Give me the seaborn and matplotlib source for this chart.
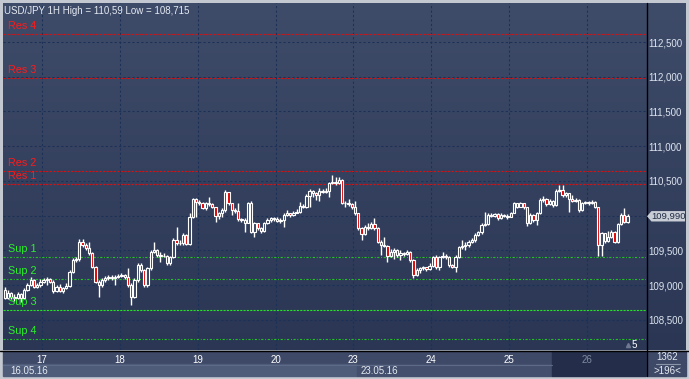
"""
USD/JPY 1H candlestick chart with support / resistance levels.
"""

import numpy as np
import matplotlib
matplotlib.use("Agg")
import matplotlib.pyplot as plt
import seaborn as sns
from matplotlib.colors import LinearSegmentedColormap
from matplotlib.patches import Rectangle, Polygon
from matplotlib.transforms import blended_transform_factory

# ---- data -----------------------------------------------------------------
first_open = 108.928

closes = [
    # 16.05 (afternoon)
    108.808, 108.890, 108.832, 108.813, 108.870, 108.808, 108.928, 109.000, 109.072, 108.976, 109.000, 109.048,
    # 17
    109.072, 109.082, 109.048, 108.918, 108.976, 108.918, 108.952, 108.986, 109.192, 109.360, 109.370, 109.624,
    109.576, 109.528, 109.456, 109.264, 109.048, 109.000, 109.072, 109.096, 109.120, 109.096, 109.120, 109.130,
    # 18
    109.144, 109.110, 109.000, 108.822, 109.072, 109.288, 109.216, 109.000, 109.240, 109.480, 109.504, 109.432,
    109.418, 109.418, 109.312, 109.398, 109.648, 109.600, 109.600, 109.720, 109.590, 109.984, 110.234, 110.200,
    # 19
    110.176, 110.104, 110.176, 110.166, 110.118, 109.994, 110.032, 110.080, 110.344, 110.176, 110.080, 110.070,
    109.946, 109.936, 109.898, 110.176, 109.768, 109.888, 109.816, 109.782, 109.898, 109.936, 109.960, 109.946,
    # 20
    109.926, 109.936, 110.008, 110.032, 110.008, 110.042, 110.056, 110.138, 110.118, 110.282, 110.358, 110.330,
    110.296, 110.358, 110.344, 110.358, 110.464, 110.488, 110.464, 110.512, 110.186, 110.176, 110.166, 110.118,
    # 23
    110.032, 109.816, 109.734, 109.840, 109.816, 109.878, 109.816, 109.624, 109.576, 109.562, 109.418, 109.480,
    109.504, 109.432, 109.456, 109.446, 109.480, 109.360, 109.144, 109.216, 109.240, 109.254, 109.226, 109.274,
    # 24
    109.398, 109.254, 109.398, 109.418, 109.398, 109.288, 109.264, 109.408, 109.542, 109.562, 109.576, 109.624,
    109.648, 109.720, 109.768, 109.864, 109.878, 110.008, 109.994, 110.018, 109.960, 110.008, 109.994, 109.984,
    # 25
    110.042, 110.176, 110.128, 110.176, 110.118, 109.888, 110.008, 109.936, 110.032, 110.224, 110.234, 110.166,
    110.214, 110.152, 110.358, 110.368, 110.296, 110.320, 110.234, 110.214, 110.224, 110.080, 110.186, 110.190,
    # 26
    110.176, 110.200, 110.118, 109.576, 109.744, 109.638, 109.696, 109.768, 109.624, 109.878, 110.008, 109.912,
    109.990,
]

highs = [
    108.966, 108.928, 108.904, 108.870, 108.904, 108.880, 108.952, 109.034, 109.110, 109.082, 109.024, 109.082,
    109.096, 109.110, 109.096, 109.072, 109.000, 109.014, 108.976, 109.024, 109.216, 109.384, 109.398, 109.658,
    109.658, 109.600, 109.624, 109.480, 109.274, 109.072, 109.096, 109.130, 109.144, 109.144, 109.144, 109.158,
    109.168, 109.158, 109.240, 109.024, 109.096, 109.322, 109.312, 109.226, 109.264, 109.504, 109.624, 109.514,
    109.480, 109.456, 109.432, 109.418, 109.672, 109.840, 109.648, 109.744, 109.734, 110.032, 110.248, 110.248,
    110.224, 110.200, 110.200, 110.272, 110.186, 110.128, 110.056, 110.104, 110.368, 110.344, 110.186, 110.104,
    110.176, 109.960, 109.960, 110.200, 110.214, 109.912, 109.898, 109.830, 109.912, 109.960, 109.984, 109.984,
    109.984, 109.960, 110.032, 110.080, 110.042, 110.070, 110.090, 110.200, 110.166, 110.310, 110.378, 110.368,
    110.344, 110.392, 110.378, 110.392, 110.488, 110.590, 110.560, 110.550, 110.522, 110.214, 110.234, 110.176,
    110.214, 110.042, 109.830, 109.864, 109.888, 109.912, 109.960, 109.830, 109.648, 109.696, 109.576, 109.514,
    109.528, 109.514, 109.504, 109.480, 109.504, 109.494, 109.370, 109.240, 109.264, 109.274, 109.264, 109.312,
    109.418, 109.432, 109.418, 109.480, 109.446, 109.418, 109.302, 109.432, 109.562, 109.648, 109.624, 109.648,
    109.672, 109.744, 109.782, 109.888, 110.056, 110.032, 110.032, 110.042, 110.032, 110.032, 110.022, 110.022,
    110.056, 110.200, 110.186, 110.200, 110.186, 110.128, 110.032, 110.022, 110.056, 110.248, 110.282, 110.248,
    110.234, 110.224, 110.378, 110.440, 110.440, 110.344, 110.330, 110.296, 110.248, 110.234, 110.200, 110.214,
    110.214, 110.224, 110.214, 110.128, 109.768, 109.754, 109.782, 109.792, 109.778, 109.898, 110.032, 110.104,
    110.022,
]

lows = [
    108.794, 108.794, 108.794, 108.774, 108.794, 108.760, 108.794, 108.918, 108.986, 108.952, 108.952, 108.976,
    109.024, 109.000, 109.024, 108.880, 108.904, 108.899, 108.890, 108.938, 108.966, 109.168, 109.336, 109.350,
    109.552, 109.504, 109.432, 109.240, 109.024, 108.832, 108.976, 109.048, 109.072, 109.072, 109.000, 109.096,
    109.110, 109.082, 108.976, 108.715, 108.808, 109.048, 109.192, 108.976, 108.976, 109.216, 109.456, 109.408,
    109.336, 109.398, 109.288, 109.288, 109.384, 109.576, 109.576, 109.576, 109.576, 109.576, 109.960, 109.984,
    110.152, 110.090, 110.080, 110.138, 110.104, 109.912, 109.946, 109.984, 110.056, 110.152, 110.008, 110.042,
    109.926, 109.912, 109.768, 109.888, 109.754, 109.696, 109.792, 109.754, 109.768, 109.878, 109.912, 109.926,
    109.907, 109.898, 109.840, 109.994, 109.984, 109.994, 110.032, 110.042, 110.104, 110.104, 110.118, 110.272,
    110.224, 110.214, 110.320, 110.330, 110.272, 110.454, 110.440, 110.454, 110.166, 110.128, 110.138, 110.090,
    110.008, 109.792, 109.648, 109.720, 109.792, 109.802, 109.792, 109.600, 109.432, 109.542, 109.336, 109.398,
    109.370, 109.408, 109.360, 109.418, 109.432, 109.336, 109.096, 109.130, 109.168, 109.216, 109.206, 109.216,
    109.254, 109.235, 109.216, 109.384, 109.370, 109.264, 109.240, 109.192, 109.384, 109.523, 109.504, 109.552,
    109.610, 109.624, 109.706, 109.734, 109.850, 109.864, 109.974, 109.984, 109.936, 109.946, 109.974, 109.946,
    109.974, 110.032, 110.104, 110.118, 110.090, 109.850, 109.878, 109.912, 109.864, 110.022, 110.200, 110.138,
    110.152, 110.128, 110.138, 110.339, 110.272, 110.272, 110.056, 110.200, 110.200, 110.056, 110.070, 110.166,
    110.157, 110.166, 110.104, 109.418, 109.418, 109.610, 109.624, 109.672, 109.600, 109.610, 109.864, 109.898,
    109.898,
]

day_labels = ["17", "18", "19", "20", "23", "24", "25", "26"]
day_first_bar = [12, 36, 60, 84, 108, 132, 156, 180]

level_names = ["Res 4", "Res 3", "Res 2", "Res 1", "Sup 1", "Sup 2", "Sup 3", "Sup 4"]
level_values = [112.61, 111.985, 110.645, 110.455, 109.40, 109.08, 108.635, 108.22]

price_ticks = [108.5, 109.0, 109.5, 110.0, 110.5, 111.0, 111.5, 112.0, 112.5]
# the 110,000 label is covered by the last-price marker
price_labels = ["108,500", "109,000", "109,500", "", "110,500", "111,000", "111,500", "112,000", "112,500"]
last_price = 109.990

# ---- style ----------------------------------------------------------------
sns.set_theme(style="dark")
plt.rcParams["font.family"] = ["Liberation Sans", "DejaVu Sans"]

BG_TOP, BG_BOT = "#3f4c69", "#2a3654"
GRID = "#1c3157"
RED_LINE, RED_TXT = "#d81010", "#ff1a1a"
GREEN_LINE, GREEN_TXT = "#22c422", "#2cf02c"
TXT = "#e4e9f2"

W, H = 689, 379


def frac(x0, y0, x1, y1):
    return [x0 / W, 1 - y1 / H, (x1 - x0) / W, (y1 - y0) / H]


fig = plt.figure(figsize=(W / 100, H / 100), dpi=100)
fig.patch.set_facecolor("#c4c8d0")

# background layer in pixel coordinates
bg = fig.add_axes([0, 0, 1, 1], zorder=0)
bg.set_xlim(0, W)
bg.set_ylim(H, 0)
bg.axis("off")
grad = np.linspace(0, 1, 256).reshape(-1, 1)
bg.imshow(grad, cmap=LinearSegmentedColormap.from_list("bg", [BG_TOP, BG_BOT]),
          extent=(3, 686, 350, 3), aspect="auto")
bg.add_patch(Rectangle((3, 351), 549, 13, color="#3d4966"))
bg.add_patch(Rectangle((3, 364), 354, 12, color="#4e5c7a"))
bg.add_patch(Rectangle((357, 364), 195, 12, color="#434f6c"))
bg.add_patch(Rectangle((552, 351), 94, 25, color="#242e4a"))
bg.add_patch(Rectangle((647, 351), 39, 25, color="#3d4966"))
bg.plot([3, 552], [364.5, 364.5], color="#5e6b88", lw=0.8)
bg.plot([0, W], [350.5, 350.5], color="black", lw=1.0)
bg.plot([646.5, 646.5], [3, 376], color="black", lw=1.0)
bg.text(10, 370.5, "16.05.16", color=TXT, fontsize=7, va="center")
bg.text(361, 370.5, "23.05.16", color=TXT, fontsize=7, va="center")
bg.text(667, 357.5, "1362", color=TXT, fontsize=7, ha="center", va="center")
bg.plot([656, 680], [364, 364], color="#8a94a8", lw=0.8)
bg.text(667, 370.5, ">196<", color=TXT, fontsize=7, ha="center", va="center")

# main chart
ax = fig.add_axes(frac(3, 3, 646, 350), zorder=1)
ax.set_facecolor("none")
for s in ax.spines.values():
    s.set_visible(False)

n = len(closes)
x = np.arange(n)
c = np.array(closes)
o = np.array([first_open] + closes[:-1])
h = np.maximum(np.array(highs), np.maximum(o, c))
lo = np.minimum(np.array(lows), np.minimum(o, c))
down = c < o

ax.vlines(x, lo, h, color="white", lw=1.0, zorder=3)
ax.bar(x, np.abs(c - o), bottom=np.minimum(o, c), width=0.7,
       color=np.where(down, "#e00000", "#34415f"), edgecolor="white",
       linewidth=0.8, zorder=4)

ax.set_xlim(-0.52, 197.7)
ax.set_ylim(108.064, 113.062)

# grid + axis labels
ax.set_xticks([d - 0.5 for d in day_first_bar])
ax.set_xticklabels(day_labels)
ax.yaxis.tick_right()
ax.set_yticks(price_ticks)
ax.set_yticklabels(price_labels)
ax.tick_params(axis="x", colors="white", labelsize=7, length=0, pad=3.5)
ax.tick_params(axis="y", colors="#dde4f0", labelsize=7, length=0, pad=2)
ax.xaxis.get_ticklabels()[-1].set_color("#7f8aa0")
ax.grid(True, color=GRID, linestyle=(0, (2, 2)), lw=0.8)
ax.set_axisbelow(True)

# support / resistance levels
for name, val in zip(level_names, level_values):
    if name.startswith("Res"):
        ax.axhline(val, color=RED_LINE, ls=(0, (2, 1.2)), lw=0.8, zorder=2)
        col = RED_TXT
    elif name == "Sup 3":
        ax.axhline(val, color="#26e026", ls=(0, (2, 1)), lw=0.8, zorder=2)
        col = GREEN_TXT
    else:
        ax.axhline(val, color=GREEN_LINE, ls=(0, (2, 1.5, 0.8, 1.5)), lw=0.8, zorder=2)
        col = GREEN_TXT
    ax.annotate(name, xy=(0.008, val), xycoords=("axes fraction", "data"),
                xytext=(0, 5.8), textcoords="offset points", va="center",
                color=col, fontsize=7.8, zorder=5)

ax.text(0.0016, 0.992, "USD/JPY 1H High = 110,59 Low = 108,715", transform=ax.transAxes,
        va="top", ha="left", color=TXT, fontsize=7)
ax.text(0.982, 0.014, "5", transform=ax.transAxes, color="white", fontsize=7,
        ha="center", va="center")
ax.plot([0.972], [0.014], marker="^", ms=3, color="#6e7890", transform=ax.transAxes,
        clip_on=False)

# last price marker on the right scale
tr = blended_transform_factory(ax.transAxes, ax.transData)
d = 0.075
marker = Polygon([(1.0016, last_price), (1.0085, last_price + d), (1.0607, last_price + d),
                  (1.0607, last_price - d), (1.0085, last_price - d)],
                 closed=True, transform=tr, facecolor="#c9cdd6", edgecolor="none",
                 clip_on=False, zorder=6)
ax.add_patch(marker)
ax.text(1.0346, last_price, f"{last_price:.3f}".replace(".", ","), transform=tr,
        color="#1f2c44", fontsize=6.8, ha="center", va="center", zorder=7, clip_on=False)

fig.savefig("out.png", dpi=100)
plt.close(fig)
